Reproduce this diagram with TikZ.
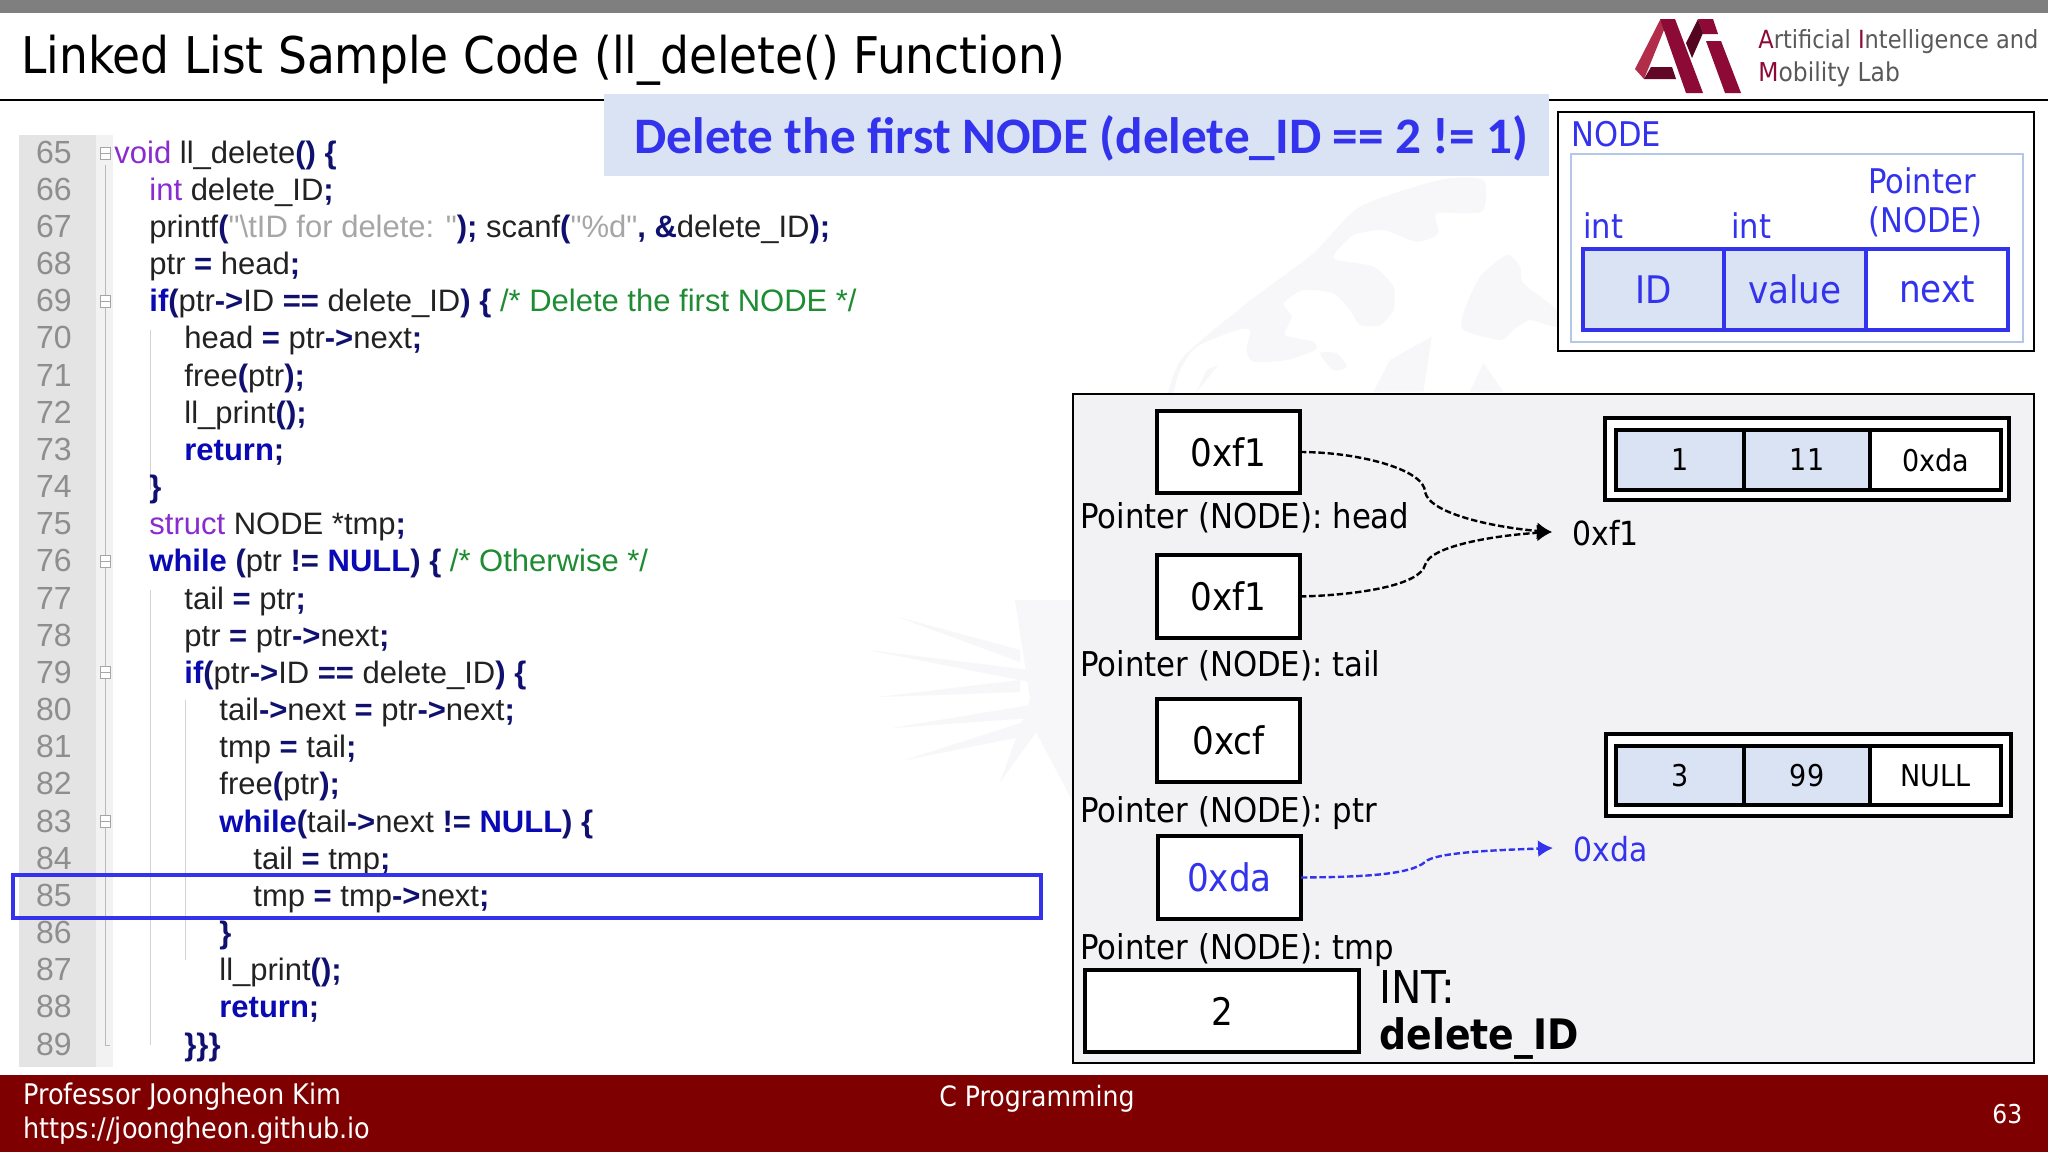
\documentclass[tikz,border=0pt]{standalone}
\usepackage{fontspec}
\usetikzlibrary{arrows.meta}
\setmainfont{Liberation Sans}
\newfontfamily\tah{DejaVu Sans Condensed}
\newfontfamily\calib{Carlito}
\newfontfamily\cod{Liberation Sans}
\definecolor{topgray}{HTML}{7F7F7F}
\definecolor{banner}{HTML}{DAE3F3}
\definecolor{cellblue}{HTML}{DAE3F3}
\definecolor{frameblue}{HTML}{B4C7E7}
\definecolor{pure}{HTML}{3333EE}
\definecolor{wine}{HTML}{7F0000}
\definecolor{panel}{HTML}{F2F2F5}
\definecolor{gutter}{HTML}{E4E4E4}
\definecolor{gutterb}{HTML}{F2F2F2}
\definecolor{lineno}{HTML}{8E8E8E}
\definecolor{wm}{HTML}{F7F6F8}
\definecolor{kwpurple}{HTML}{8A2BD0}
\definecolor{kwblue}{HTML}{0A0AB4}
\definecolor{opnavy}{HTML}{101070}
\definecolor{cmgreen}{HTML}{1E8C32}
\definecolor{strgray}{HTML}{A6A6A6}
\definecolor{codeink}{HTML}{222222}
\definecolor{labgray}{HTML}{595959}
\definecolor{labred}{HTML}{8C0A35}
\newcommand\ty[1]{{\color{kwpurple}#1}}
\newcommand\kw[1]{{\color{kwblue}\bfseries #1}}
\newcommand\opr[1]{{\color{opnavy}\bfseries #1}}
\newcommand\cmt[1]{{\color{cmgreen}#1}}
\newcommand\strg[1]{{\color{strgray}#1}}
\newcommand\bx[7]{\node[#6,minimum width={(#4-#2)*0.5pt},minimum height={(#5-#3)*0.5pt},inner sep=0pt,outer sep=0pt] (#1) at ({(#2+#4)/2},{(#3+#5)/2}) {#7};}
% line number and code text of one listing line: #1 number, #2 x, #3 text
\newcommand\cl[3]{%
  \pgfmathsetmacro\yy{163+(#1-65)*37.17}%
  \node[numtext] (n#1) at (72,\yy) {#1};%
  \node[codetext] (c#1) at (#2,\yy) {#3};}
\tikzset{
  numtext/.style={anchor=base east,font=\cod\fontsize{16pt}{18pt}\selectfont,text=lineno,inner sep=0pt},
  codetext/.style={anchor=base west,font=\cod\fontsize{15.5pt}{17pt}\selectfont,text=codeink,inner sep=0pt},
  tahtext/.style={font=\tah\fontsize{17.1pt}{20pt}\selectfont,inner sep=0pt},
  lbl/.style={tahtext,anchor=west},
  box/.style={draw=black,line width=2.2pt,fill=white,font=\tah\fontsize{19pt}{22pt}\selectfont},
  cellb/.style={draw=black,line width=1.8pt,fill=cellblue,font=\tah\fontsize{15pt}{17pt}\selectfont},
  cellw/.style={draw=black,line width=1.8pt,fill=white,font=\tah\fontsize{15pt}{17pt}\selectfont},
  outerb/.style={draw=black,line width=2.2pt,fill=white},
  pcellb/.style={draw=pure,line width=1.8pt,fill=cellblue,text=pure,font=\tah\fontsize{19pt}{22pt}\selectfont},
  pcellw/.style={draw=pure,line width=1.8pt,fill=white,text=pure,font=\tah\fontsize{19pt}{22pt}\selectfont},
  ptext/.style={text=pure,font=\tah\fontsize{17pt}{20pt}\selectfont,inner sep=0pt,anchor=base west},
  dashline/.style={line width=1.2pt,dash pattern=on 3.2pt off 1.4pt},
  tip/.style={-{Latex[length=7.5pt,width=8.5pt]}},
  foot/.style={text=white,font=\tah\fontsize{14.2pt}{17pt}\selectfont,inner sep=0pt,anchor=west},
  lab/.style={text=labgray,font=\tah\fontsize{13pt}{16pt}\selectfont,inner sep=0pt,anchor=base west},
}
\begin{document}
\begin{tikzpicture}[x=0.5pt,y=-0.5pt]
\useasboundingbox (0,0) rectangle (2048,1152);
\fill[white] (0,0) rectangle (2048,1152);
% watermark
\begin{scope}[shift={(1040,170)},x=0.16667pt,y=-0.16667pt]
\fill[wm] plot[smooth cycle,tension=0.4] coordinates {(385,665) (430,560) (620,400) (820,250) (960,110) (1200,30) (1330,30) (1325,125) (1190,130) (1195,190) (1130,215) (1030,180) (940,195) (885,250) (890,270) (1000,290) (1060,350) (1060,420) (1020,465) (960,465) (930,420) (880,370) (790,360) (730,400) (755,440) (735,495) (820,515) (825,540) (740,570) (640,575) (620,540) (630,480) (590,480) (470,530) (420,600) (400,665)};
\fill[wm] plot[smooth cycle,tension=0.4] coordinates {(1400,255) (1440,290) (1450,340) (1550,420) (1550,470) (1470,450) (1420,480) (1380,510) (1270,480) (1270,430) (1320,320)};
\fill[wm] (1175,500) -- (1150,665) -- (1000,665) -- (1050,570) -- cycle;
\fill[wm] (1330,580) -- (1390,665) -- (1290,665) -- cycle;
\fill[wm] plot[smooth cycle,tension=0.4] coordinates {(840,550) (890,550) (920,590) (880,600)};
\fill[wm] (535,585) -- (470,665) -- (500,600) -- cycle;
\end{scope}
\fill[wm] (1015,600) -- (1072,600) -- (1072,800) -- (1035,730) -- cycle;
\fill[wm] (868,650) -- (1030,670) -- (1030,682) -- cycle;
\fill[wm] (878,697) -- (1020,680) -- (1020,692) -- cycle;
\fill[wm] (892,728) -- (1030,705) -- (1030,718) -- cycle;
\fill[wm] (905,760) -- (1030,720) -- (1030,735) -- cycle;
\fill[wm] (1000,782) -- (1030,700) -- (1045,720) -- cycle;
\fill[wm] (898,617) -- (1020,650) -- (1020,662) -- cycle;
% chrome
\fill[topgray] (0,0) rectangle (2048,13);
\node[anchor=west,inner sep=0pt,font=\tah\fontsize{25.3pt}{30pt}\selectfont] (title) at (21,60) {Linked List Sample Code (ll\_delete() Function)};
\draw[line width=0.6pt] (0,100) -- (2048,100);
% logo
\fill[labred!80!red!85!white] (1635,69) -- (1660,20) -- (1666,25) -- (1651,62) -- (1644,79) -- cycle;
\fill[labred] (1660,19) -- (1675,19) -- (1703,93) -- (1686,93) -- cycle;
\fill[labred!70!black] (1644,79) -- (1651,67) -- (1672,67) -- (1676,79) -- cycle;
\fill[labred!60!black] (1686,43) -- (1698,19) -- (1703,33) -- (1692,58) -- cycle;
\fill[labred] (1698,19) -- (1713,19) -- (1718,34) -- (1703,34) -- cycle;
\fill[labred] (1706,41) -- (1721,41) -- (1741,93) -- (1725,93) -- cycle;
\node[lab,font=\tah\fontsize{12.5pt}{16pt}\selectfont] (lab1) at (1758,48) {{\color{labred}A}rtificial {\color{labred}I}ntelligence and};
\node[lab] (lab2) at (1758,81) {{\color{labred}M}obility Lab};
% listing gutter
\fill[gutter] (19,135) rectangle (96,1067);
\fill[gutterb] (96,135) rectangle (113,1067);
\draw[gray!55,line width=0.5pt] (105,165) -- (105,1045) -- (110,1045);
\draw[gray!35,line width=0.4pt] (150,330) -- (150,490);
\draw[gray!35,line width=0.4pt] (150,590) -- (150,1045);
\draw[gray!35,line width=0.4pt] (185,700) -- (185,960);
\foreach \yy in {153,301,561,672,821}{\draw[gray!70,line width=0.5pt,fill=white] (100,\yy-6) rectangle (110,\yy+6); \draw[gray!70,line width=0.5pt] (100,\yy) -- (110,\yy);}
% listing
\cl{65}{114}{\ty{void} ll\_delete\opr{()} \opr{\{}}
\cl{66}{149}{\ty{int} delete\_ID\opr{;}}
\cl{67}{149}{printf\opr{(}\strg{"\textbackslash tID for delete: "}\opr{);} scanf\opr{(}\strg{"\%d"}\opr{,} \opr{\&}delete\_ID\opr{);}}
\cl{68}{149}{ptr \opr{=} head\opr{;}}
\cl{69}{149}{\kw{if}\opr{(}ptr\opr{->}ID \opr{==} delete\_ID\opr{)} \opr{\{} \cmt{/* Delete the first NODE */}}
\cl{70}{184}{head \opr{=} ptr\opr{->}next\opr{;}}
\cl{71}{184}{free\opr{(}ptr\opr{);}}
\cl{72}{184}{ll\_print\opr{();}}
\cl{73}{184}{\kw{return}\opr{;}}
\cl{74}{149}{\opr{\}}}
\cl{75}{149}{\ty{struct} NODE *tmp\opr{;}}
\cl{76}{149}{\kw{while} \opr{(}ptr \opr{!=} \kw{NULL}\opr{)} \opr{\{} \cmt{/* Otherwise */}}
\cl{77}{184}{tail \opr{=} ptr\opr{;}}
\cl{78}{184}{ptr \opr{=} ptr\opr{->}next\opr{;}}
\cl{79}{184}{\kw{if}\opr{(}ptr\opr{->}ID \opr{==} delete\_ID\opr{)} \opr{\{}}
\cl{80}{219}{tail\opr{->}next \opr{=} ptr\opr{->}next\opr{;}}
\cl{81}{219}{tmp \opr{=} tail\opr{;}}
\cl{82}{219}{free\opr{(}ptr\opr{);}}
\cl{83}{219}{\kw{while}\opr{(}tail\opr{->}next \opr{!=} \kw{NULL}\opr{)} \opr{\{}}
\cl{84}{253}{tail \opr{=} tmp\opr{;}}
\cl{85}{253}{tmp \opr{=} tmp\opr{->}next\opr{;}}
\cl{86}{219}{\opr{\}}}
\cl{87}{219}{ll\_print\opr{();}}
\cl{88}{219}{\kw{return}\opr{;}}
\cl{89}{184}{\opr{\}\}\}}}
\bx{hilite}{13}{875}{1041}{918}{draw=pure,line width=1.9pt}{}
% banner
\fill[banner] (604,94) rectangle (1549,176);
\node[inner sep=0pt,anchor=west,text=pure,font=\calib\bfseries\fontsize{25.6pt}{30pt}\selectfont] (bannertext) at (634,138) {Delete the first NODE (delete\_ID == 2 != 1)};
% NODE legend
\bx{legend}{1558}{112}{2034}{351}{draw=black,line width=1.2pt,fill=white}{}
\bx{legendin}{1571}{154}{2023}{342}{draw=frameblue,line width=1.2pt,fill=white}{}
\node[ptext] (nodetitle) at (1571,146) {NODE};
\node[ptext] (int1) at (1583,238) {int};
\node[ptext] (int2) at (1731,238) {int};
\node[ptext] (ptr1) at (1868,193) {Pointer};
\node[ptext] (ptr2) at (1868,232) {(NODE)};
\bx{cid}{1583}{249}{1724}{330}{pcellb}{\raisebox{-1pt}{ID}}
\bx{cval}{1724}{249}{1866}{330}{pcellb}{\raisebox{-1pt}{value}}
\bx{cnext}{1866}{249}{2008}{330}{pcellw}{\raisebox{-1pt}{next}}
% memory panel
\bx{mem}{1073}{394}{2034}{1063}{draw=black,line width=1.3pt,fill=panel}{}
\bx{phead}{1157}{411}{1300}{493}{box}{\raisebox{-1pt}{0xf1}}
\bx{ptail}{1157}{555}{1300}{638}{box}{\raisebox{-1pt}{0xf1}}
\bx{pptr}{1157}{699}{1300}{782}{box}{0xcf}
\bx{ptmp}{1158}{836}{1301}{919}{box,text=pure}{\raisebox{-0.5pt}{0xda}}
\bx{pdel}{1085}{970}{1359}{1052}{box}{2}
\node[lbl] (lhead) at (1080,518) {Pointer (NODE): head};
\node[lbl] (ltail) at (1080,666) {Pointer (NODE): tail};
\node[lbl] (lptr) at (1080,813) {Pointer (NODE): ptr};
\node[lbl] (ltmp) at (1080,950) {Pointer (NODE): tmp};
\node[lbl,font=\tah\fontsize{22.6pt}{26pt}\selectfont] (lint) at (1379,987) {INT:};
\node[lbl,font=\tah\bfseries\fontsize{21pt}{25pt}\selectfont] (ldel) at (1379,1038) {delete\_ID};
% memory nodes
\bx{n1o}{1605}{418}{2009}{500}{outerb}{}
\bx{n1a}{1616}{430}{1744}{490}{cellb}{\raisebox{-0.5pt}{1}}
\bx{n1b}{1744}{430}{1870}{490}{cellb}{\raisebox{-0.5pt}{11}}
\bx{n1c}{1870}{430}{2001}{490}{cellw}{\raisebox{-0.5pt}{0xda}}
\bx{n2o}{1606}{734}{2011}{816}{outerb}{}
\bx{n2a}{1616}{746}{1744}{805}{cellb}{\raisebox{-0.5pt}{3}}
\bx{n2b}{1744}{746}{1870}{805}{cellb}{\raisebox{-0.5pt}{99}}
\bx{n2c}{1870}{746}{2001}{805}{cellw}{\raisebox{-0.5pt}{NULL}}
\node[lbl,font=\tah\fontsize{16.6pt}{20pt}\selectfont] (addr1) at (1572,533) {0xf1};
\node[lbl,text=pure,font=\tah\fontsize{16.6pt}{20pt}\selectfont] (addr2) at (1573,849) {0xda};
\coordinate (tip1) at (1552,532);
\coordinate (tip2) at (1553,848);
\coordinate (k1) at (1425,492);
\coordinate (k2) at (1425,565);
\coordinate (k3) at (1425,862);
\draw[dashline,tip] (phead.east) .. controls (1360,452) and (1425,470) .. (k1) .. controls (1430,515) and (1500,528) .. (tip1);
\draw[dashline,tip] (ptail.east) .. controls (1360,595) and (1420,585) .. (k2) .. controls (1430,545) and (1500,535) .. (tip1);
\draw[dashline,tip,draw=pure] (ptmp.east) .. controls (1360,877) and (1410,875) .. (k3) .. controls (1435,852) and (1500,850) .. (tip2);
% footer
\fill[wine] (0,1075) rectangle (2048,1152);
\node[foot] (f1) at (23,1097) {Professor Joongheon Kim};
\node[foot] (f2) at (23,1131) {https://joongheon.github.io};
\node[foot,font=\tah\fontsize{14pt}{17pt}\selectfont] (f3) at (939,1099) {C Programming};
\node[foot,font=\tah\fontsize{13pt}{16pt}\selectfont] (f4) at (1992,1114) {63};
\end{tikzpicture}
\end{document}
